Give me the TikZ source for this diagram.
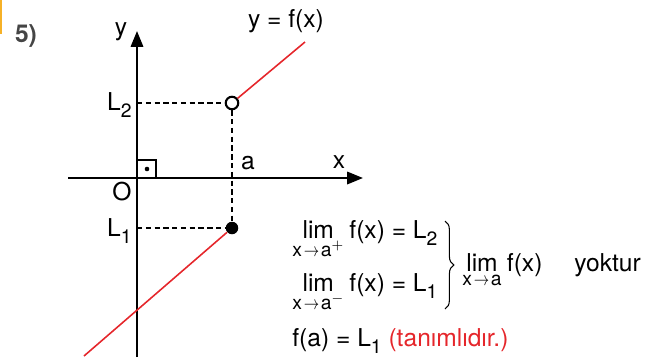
\documentclass[tikz,border=0pt]{standalone}
\usepackage{fontspec}
\setmainfont{TeX Gyre Heros}
\usepackage{graphicx}
\usepackage{tikz}
\usetikzlibrary{arrows.meta, calc, positioning, decorations.pathreplacing}
\usepackage{xcolor}

\definecolor{fred}{HTML}{E5262B}
\definecolor{tabyellow}{HTML}{F6B127}
\definecolor{numgray}{HTML}{454545}

\newcommand{\lowidx}[1]{\raisebox{-0.6ex}{\fontsize{11}{12}\selectfont #1}}
\newcommand{\limx}[1]{\ensuremath{\mathop{\hbox{lim}}\limits_{\raisebox{-2.5pt}{\fontsize{11}{12}\selectfont x\hspace{1pt}\scalebox{0.8}[1]{$\rightarrow$}\hspace{1pt}a#1}}}\hspace{3pt}}

\begin{document}
\begin{tikzpicture}[
    x=0.02cm, y=-0.02cm,
    txt/.style={inner sep=0pt, font=\fontsize{14}{16}\selectfont},
    axis/.style={line width=1.3pt, -{Triangle[length=9pt,width=7pt]}},
    guide/.style={line width=0.8pt, dash pattern=on 3pt off 2pt},
    graph/.style={fred, line width=0.9pt},
    hole/.style={circle, draw, line width=1.2pt, fill=white, inner sep=0pt, minimum size=0.25cm},
    dotpt/.style={circle, fill, inner sep=0pt, minimum size=0.25cm}
]
    \useasboundingbox (0,0) rectangle (653,359);

    % soru numarasi
    \fill[tabyellow] (0,0) rectangle (2.5,34);
    \node[txt, font=\bfseries\fontsize{14}{16}\selectfont, text=numgray, anchor=base] (num) at (26,42) {5)};

    % eksenler
    \coordinate (xstart) at (68,178);
    \coordinate (xend) at (363,178);
    \coordinate (ystart) at (137,357);
    \coordinate (yend) at (137,31);
    \draw[axis] (xstart) -- (xend);
    \draw[axis] (ystart) -- (yend);
    \node[txt, anchor=base] (ylab) at (121,35) {y};
    \node[txt, anchor=base] (xlab) at (339,168) {x};
    \node[txt] (olab) at (122,192) {O};
    \node[txt, anchor=base] (alab) at (248,169) {a};

    % dik aci isareti
    \draw[line width=1.1pt] (137,178) rectangle (156,160);
    \fill (147,169) circle (2.3);

    % noktalar
    \node[hole] (hole) at (232,103) {};
    \node[dotpt] (dot) at (232,228) {};
    \coordinate (l2) at (137,103);
    \coordinate (l1) at (137,228);
    \node[txt, anchor=base east] (l2lab) at (132,110) {L\lowidx{2}};
    \node[txt, anchor=base east] (l1lab) at (132,236) {L\lowidx{1}};

    % kesikli cizgiler
    \draw[guide] (l2) -- (hole);
    \draw[guide] (l1) -- (dot);
    \draw[guide] (hole) -- (dot);

    % fonksiyon
    \coordinate (topend) at (305,42);
    \coordinate (botend) at (84,356);
    \draw[graph] (hole) -- (topend);
    \draw[graph] (dot) -- (botend);
    \node[txt, anchor=base] (flab) at (286,27) {y = f(x)};

    % limitler
    \node[txt, anchor=base west] (right) at (292,238) {\limx{$^{+}$}f(x) = L\lowidx{2}};
    \node[txt, anchor=base west] (left) at (292,291) {\limx{$^{-}$}f(x) = L\lowidx{1}};
    \draw[decorate, decoration={brace, amplitude=5pt}, line width=0.6pt] (445,221) -- (445,309);
    \node[txt, anchor=base west] (limall) at (462,271) {\limx{}f(x)};
    \node[txt, anchor=base west] (yok) at (574,271) {yoktur};
    \node[txt, anchor=base west] (fa) at (292,346) {f(a) = L\lowidx{1} \textcolor{fred}{(tanımlıdır.)}};
\end{tikzpicture}
\end{document}
